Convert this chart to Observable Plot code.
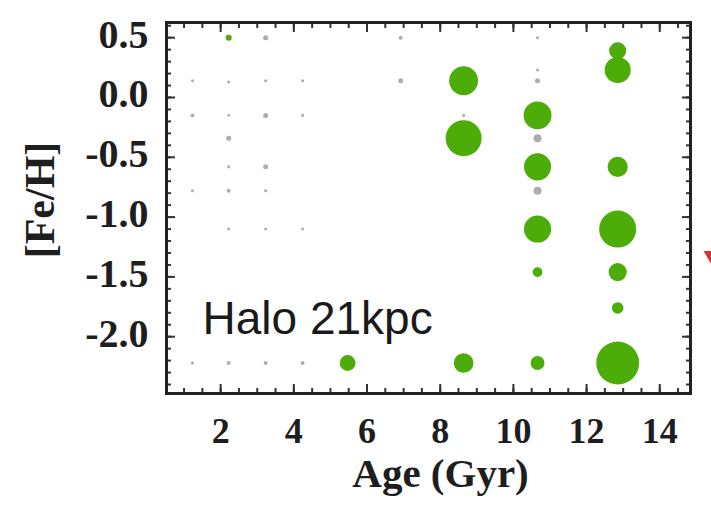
<!DOCTYPE html>
<html><head><meta charset="utf-8">
<script src="https://cdn.jsdelivr.net/npm/d3@7"></script>
<script src="https://cdn.jsdelivr.net/npm/@observablehq/plot@0.6"></script>
<style>body{margin:0;background:#fff;}</style>
</head><body><div id="chart"></div>
<script>
// Green (populated) bins: age (Gyr), [Fe/H], relative weight
const greenAge    = [8.64, 8.64, 8.64, 5.47, 10.66, 10.66, 10.66, 10.66, 10.66, 12.85, 12.85, 12.85, 12.85, 12.85, 12.85, 12.85, 2.22];
const greenFeH    = [0.14, -0.34, -2.22, -2.22, -0.15, -0.58, -1.10, -1.46, -2.22, 0.39, 0.23, -0.58, -1.10, -1.46, -1.76, -2.22, 0.50];
const greenWeight = [43, 67, 20, 13, 40, 38, 38, 5, 10, 15, 35, 21, 71, 17, 7, 95, 1.9];

// Faint grey bins
const grayAge    = [1.23, 1.23, 1.23, 1.23, 2.22, 2.22, 2.22, 2.22, 2.22, 2.22, 2.22, 3.23, 3.23, 3.23, 3.23, 3.23, 3.23, 3.23, 4.24, 4.24, 4.24, 4.24, 6.92, 6.92, 8.64, 10.66, 10.66, 10.66, 10.66, 10.66];
const grayFeH    = [0.14, -0.15, -0.78, -2.22, 0.13, -0.15, -0.34, -0.58, -0.78, -1.10, -2.22, 0.50, 0.14, -0.15, -0.58, -0.78, -1.10, -2.22, 0.14, -0.15, -1.10, -2.22, 0.50, 0.14, -0.15, 0.50, 0.23, 0.14, -0.34, -0.78];
const grayWeight = [0.5, 0.8, 0.5, 0.5, 0.5, 0.4, 1.3, 0.5, 0.8, 0.5, 0.8, 1.3, 0.5, 1.3, 1.3, 0.5, 0.5, 0.8, 0.5, 0.5, 0.5, 0.8, 0.8, 1.3, 0.5, 0.5, 0.5, 1.3, 3.3, 3.3];

const xTicks = [2, 4, 6, 8, 10, 12, 14];
const yTicks = [-2.0, -1.5, -1.0, -0.5, 0.0, 0.5];
const xMinor = d3.range(1, 15, 0.5);
const yMinor = d3.range(-24, 7).map(d => d / 10);

const greenData = greenAge.map((a, i) => ({age: a, feh: greenFeH[i], w: greenWeight[i]}));
const grayData = grayAge.map((a, i) => ({age: a, feh: grayFeH[i], w: grayWeight[i]}));

const serif = "'Liberation Serif', 'Times New Roman', serif";
const ink = "#1e1e1e";
const tickStyle = {stroke: "#333", strokeWidth: 2, fill: "none", label: null};
const minor = {...tickStyle, tickSize: 5, inset: 5};
const major = {...tickStyle, tickSize: 9, inset: 9};

const chart = Plot.plot({
  width: 711,
  height: 505,
  marginLeft: 166,
  marginRight: 21,
  marginTop: 22,
  marginBottom: 112,
  x: {domain: [0.52, 14.84]},
  y: {domain: [-2.475, 0.627]},
  r: {type: "sqrt", domain: [0, 100], range: [0, 22]},
  style: {background: "#fff", color: ink},
  marks: [
    Plot.dot(grayData, {x: "age", y: "feh", r: "w", fill: "#8a8a8a", fillOpacity: 0.7}),
    Plot.dot(greenData, {x: "age", y: "feh", r: "w", fill: "#4cac08"}),
    // inward ticks on all sides
    Plot.axisY({...minor, ticks: yMinor, anchor: "left"}),
    Plot.axisY({...major, ticks: yTicks, anchor: "left"}),
    Plot.axisY({...minor, ticks: yMinor, anchor: "right"}),
    Plot.axisY({...major, ticks: yTicks, anchor: "right"}),
    Plot.axisX({...minor, ticks: xMinor, anchor: "bottom"}),
    Plot.axisX({...major, ticks: xTicks, anchor: "bottom"}),
    Plot.axisX({...minor, ticks: xMinor, anchor: "top"}),
    Plot.axisX({...major, ticks: xTicks, anchor: "top"}),
    // tick labels
    Plot.axisY({ticks: yTicks, anchor: "left", tickSize: 0, tickPadding: 18, label: null, dy: -3,
      tickFormat: d => d.toFixed(1), fontSize: 40, fontWeight: "bold", fontFamily: serif, fill: ink}),
    Plot.axisX({ticks: xTicks, anchor: "bottom", tickSize: 0, tickPadding: 24, label: null,
      tickFormat: d => String(d), fontSize: 36, fontWeight: "bold", fontFamily: serif, fill: ink}),
    Plot.frame({stroke: "#222", strokeWidth: 3}),
    // axis titles and annotation
    Plot.text(["Age (Gyr)"], {frameAnchor: "bottom", dx: 12, dy: 93, lineAnchor: "bottom",
      fontSize: 41, fontWeight: "bold", fontFamily: serif, fill: ink}),
    Plot.text(["[Fe/H]"], {frameAnchor: "left", dx: -126, dy: -8, rotate: -90, textAnchor: "middle", lineAnchor: "middle",
      fontSize: 42, fontWeight: "bold", fontFamily: serif, fill: ink}),
    Plot.text(["Halo 21kpc"], {frameAnchor: "bottom-left", dx: 36, dy: -60, textAnchor: "start", lineAnchor: "bottom",
      fontSize: 46, fontFamily: "'Liberation Sans', Arial, sans-serif", fill: "#1a1a1a"}),
    // cropped red marker from the neighbouring panel at the right edge
    Plot.dot([0], {frameAnchor: "right", dx: 32, dy: 54, symbol: "triangle", rotate: 180, r: 14, fill: "#d8322e"})
  ]
});
document.getElementById("chart").appendChild(chart);
</script>
</body></html>
